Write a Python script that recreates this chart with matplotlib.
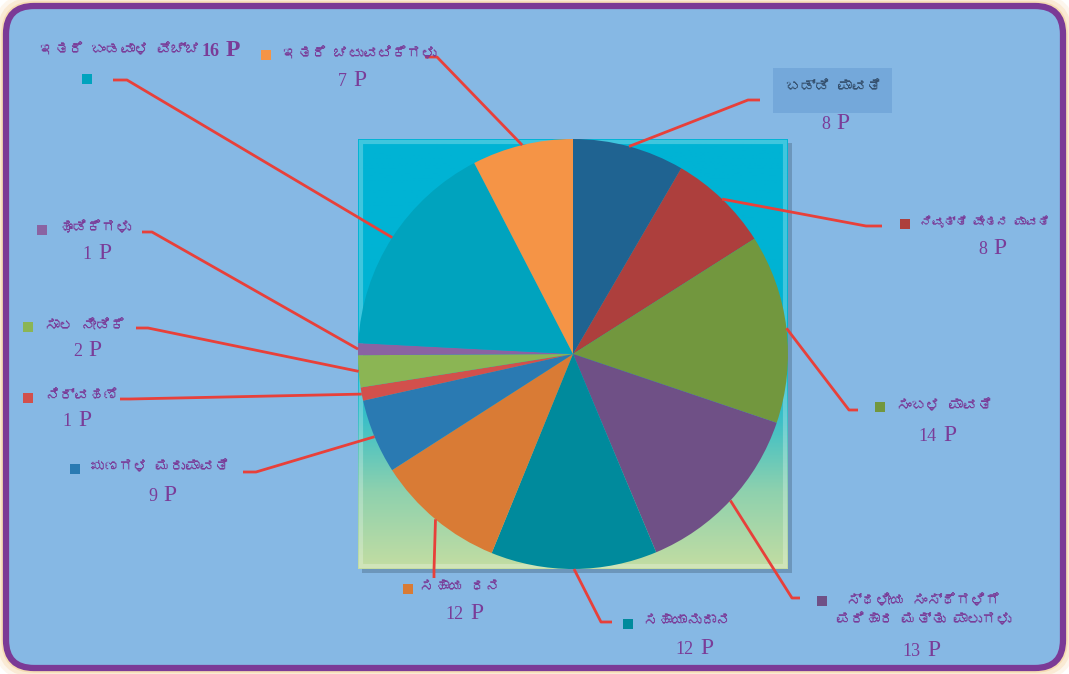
import numpy as np
import matplotlib
matplotlib.use('Agg')
import matplotlib.pyplot as plt
from matplotlib import font_manager
from matplotlib.ft2font import FT2Font
from matplotlib.patches import FancyBboxPatch, Rectangle
from matplotlib.colors import LinearSegmentedColormap

# ---- data ----
categories = [
    'ಬಡ್ಡಿ ಪಾವತಿ',
    'ನಿವೃತ್ತಿ ವೇತನ ಪಾವತಿ',
    'ಸಂಬಳ ಪಾವತಿ',
    'ಸ್ಥಳೀಯ ಸಂಸ್ಥೆಗಳಿಗೆ\nಪರಿಹಾರ ಮತ್ತು ಪಾಲುಗಳು',
    'ಸಹಾಯಾನುದಾನ',
    'ಸಹಾಯ ಧನ',
    'ಋಣಗಳ ಮರುಪಾವತಿ',
    'ನಿರ್ವಹಣೆ',
    'ಸಾಲ ನೀಡಿಕೆ',
    'ಹೂಡಿಕೆಗಳು',
    'ಇತರೆ ಬಂಡವಾಳ ವೆಚ್ಚ',
    'ಇತರೆ ಚಟುವಟಿಕೆಗಳು',
]
# slice sizes as drawn (measured angles, %)
shares = [8.4, 7.6, 14.2, 13.5, 12.5, 9.75, 5.6, 1.0, 2.4, 0.9, 16.6, 7.6]
# numbers printed in the labels
label_values = [8, 8, 14, 13, 12, 12, 9, 1, 2, 1, 16, 7]
colors = ['#1F6391', '#AD3F3D', '#72973E', '#6F5086', '#008A9C', '#D97B35',
          '#2A7AB2', '#D2504C', '#8BB554', '#8A63A2', '#00A3BE', '#F59446']

# ---- layout (pixels, y down) ----
# marker position, text anchor, value centre, leader start, leader elbow
layout = [
    (None,       (833, 87),  (833, 123), (760, 100), (748, 100)),
    ((905, 224), (920, 222), (990, 248), (882, 226), (866, 226)),
    ((880, 407), (897, 406), (940, 435), (858, 410), (849, 410)),
    ((822, 601), (924, 610), (924, 650), (800, 598), (792, 598)),
    ((628, 624), (643, 621), (697, 648), (612, 622), (601, 622)),
    ((408, 589), (420, 587), (467, 613), (434, 578), (434, 570)),
    ((75, 469),  (90, 467),  (160, 495), (243, 472), (256, 472)),
    ((28, 398),  (45, 396),  (75, 420),  (120, 399), (130, 399)),
    ((28, 327),  (45, 326),  (85, 350),  (136, 328), (148, 328)),
    ((42, 230),  (58, 228),  (95, 253),  (142, 232), (152, 232)),
    ((87, 79),   (40, 50),   (198, 50),  (113, 80),  (127, 80)),
    ((266, 55),  (283, 54),  (350, 80),  (425, 57),  (437, 57)),
]

W, H = 1069, 674
TXT = '#7A3C98'
LEADER = '#E8403A'
KSIZE = 10.5


def find_kannada_font():
    for f in font_manager.fontManager.ttflist:
        try:
            if 0x0C95 in FT2Font(f.fname).get_charmap():
                return f.name
        except Exception:
            pass
    return None


kn = find_kannada_font()
kfam = ([kn] if kn else []) + ['Noto Sans', 'DejaVu Sans']
sfam = ['Liberation Serif', 'DejaVu Serif']

fig = plt.figure(figsize=(W / 100, H / 100), dpi=100)
fig.patch.set_facecolor('white')

bg = fig.add_axes([0, 0, 1, 1])
bg.set_xlim(0, W)
bg.set_ylim(H, 0)
bg.axis('off')

# soft cream glow around the frame
for pad, a in [(10, 0.15), (7, 0.25), (4, 0.45)]:
    bg.add_patch(FancyBboxPatch((6 - pad / 2, 6 - pad / 2), W - 12 + pad, H - 12 + pad,
                                boxstyle='round,pad=0,rounding_size=30',
                                fc='none', ec='#F2C98C', lw=pad, alpha=a, zorder=0))
bg.add_patch(FancyBboxPatch((6, 6), W - 12, H - 12,
                            boxstyle='round,pad=0,rounding_size=28',
                            fc='#86B8E4', ec='#7B3A96', lw=4.5, zorder=1))

# box behind the pie
bx0, by0, bx1, by1 = 358, 139, 788, 569
bg.add_patch(Rectangle((bx0 + 4, by0 + 4), bx1 - bx0, by1 - by0,
                       fc='#4E6E8A', ec='none', alpha=0.45, zorder=2))

pax = fig.add_axes([bx0 / W, 1 - by1 / H, (bx1 - bx0) / W, (by1 - by0) / H])
grad = LinearSegmentedColormap.from_list('box', [
    (0.0, '#00B3D5'), (0.5, '#00B3D3'), (0.66, '#3FC0C6'),
    (0.82, '#8ED1AE'), (1.0, '#C3DDA2')])
pax.imshow(np.linspace(0, 1, 256).reshape(-1, 1), cmap=grad, aspect='auto',
           extent=[-1, 1, -1, 1], zorder=0)
wedges, _ = pax.pie(shares, colors=colors, startangle=90, counterclock=False,
                    radius=1.0, wedgeprops=dict(linewidth=0, zorder=2))
pax.set_xlim(-1, 1)
pax.set_ylim(-1, 1)
pax.set_aspect('auto')
for s in pax.spines.values():
    s.set_visible(True)
    s.set_color('#2F8A9C')
    s.set_linewidth(1.2)
pax.set_xticks([])
pax.set_yticks([])
# bevel highlight
pax.add_patch(Rectangle((-0.985, -0.985), 1.97, 1.97, transform=pax.transData,
                        fc='none', ec='white', lw=3, alpha=0.25, zorder=1))

# overlay for leaders and labels
top = fig.add_axes([0, 0, 1, 1], zorder=5)
top.set_xlim(0, W)
top.set_ylim(H, 0)
top.axis('off')
top.patch.set_alpha(0)

# leader lines to the middle of each wedge
to_top = pax.transData + top.transData.inverted()
for w, (mk, tx, vc, st, el) in zip(wedges, layout):
    mid = np.deg2rad((w.theta1 + w.theta2) / 2)
    ex, ey = to_top.transform((np.cos(mid), np.sin(mid)))
    top.plot([st[0], el[0], ex], [st[1], el[1], ey], color=LEADER, lw=2,
             solid_capstyle='butt', zorder=5)


def value_text(x, y, n, bold=False):
    wt = 'bold' if bold else 'normal'
    top.text(x - 3, y, str(n), ha='right', va='baseline', size=13, color=TXT,
             family=sfam, weight=wt, zorder=6)
    top.text(x + 3, y, 'P', ha='left', va='baseline', size=17, color=TXT,
             family=sfam, weight=wt, zorder=6)


renderer = fig.canvas.get_renderer()


def fit_right(t, limit):
    # shrink a label that would run past the frame
    while t.get_window_extent(renderer).x1 > limit and t.get_fontsize() > 6:
        t.set_fontsize(t.get_fontsize() - 0.5)


for i, (mk, tx, vc, st, el) in enumerate(layout):
    name = categories[i]
    if i == 0:
        top.add_patch(Rectangle((773, 68), 119, 45, fc='#74A8DA', ec='none', zorder=4))
        top.text(tx[0], tx[1], name, ha='center', va='center', size=KSIZE,
                 color='#35506E', family=kfam, zorder=6)
        value_text(vc[0], vc[1] + 6, label_values[i])
        continue
    top.scatter([mk[0]], [mk[1]], marker='s', s=62, color=colors[i], lw=0, zorder=6)
    if i == 10:
        t = top.text(tx[0], tx[1], name, ha='left', va='center', size=KSIZE,
                     weight='bold', color=TXT, family=kfam, zorder=6)
        x1 = t.get_window_extent(renderer).x1
        vx = top.transData.inverted().transform((x1, 0))[0] + 22
        value_text(vx, vc[1] + 6, label_values[i], bold=True)
    elif i == 3:
        top.text(tx[0], tx[1], name, ha='center', va='center', size=KSIZE,
                 color=TXT, family=kfam, linespacing=1.5, zorder=6)
        value_text(vc[0], vc[1] + 6, label_values[i])
    else:
        t = top.text(tx[0], tx[1], name, ha='left', va='center', size=KSIZE,
                     color=TXT, family=kfam, zorder=6)
        fit_right(t, W - 14)
        value_text(vc[0], vc[1] + 6, label_values[i])

fig.savefig('out.png', dpi=100, facecolor=fig.get_facecolor())
